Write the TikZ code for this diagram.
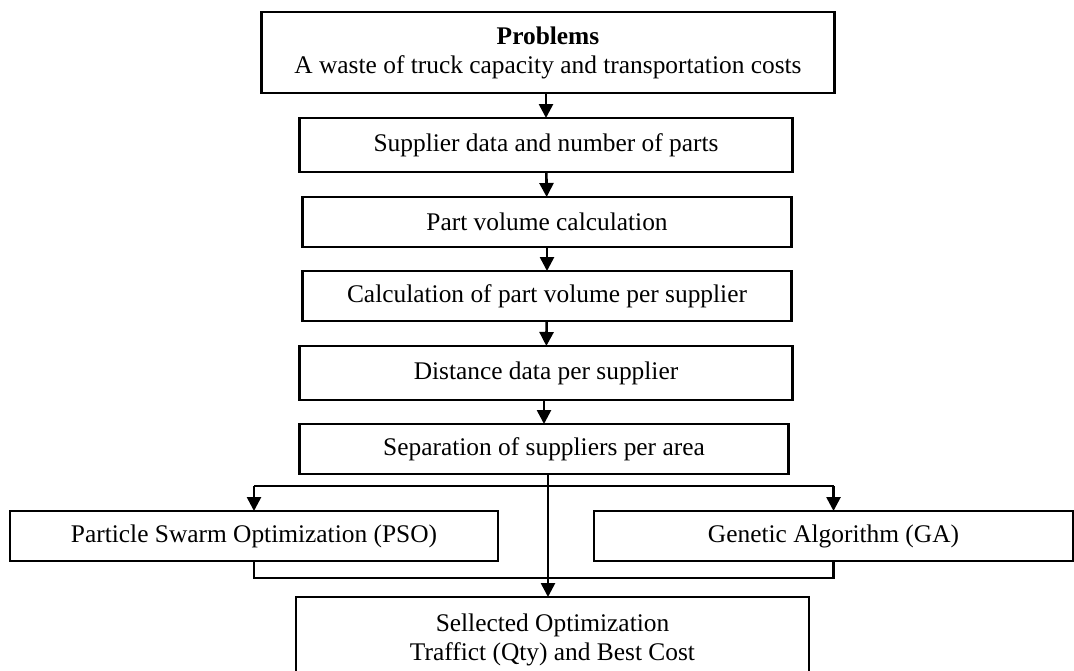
\documentclass[tikz,border=0pt]{standalone}
\usepackage{fontspec}
\setmainfont{Liberation Serif}
\usetikzlibrary{arrows.meta}

\tikzset{
  box/.style={draw, line width=1.3pt, inner sep=0pt, outer sep=0pt, align=center,
    font=\fontsize{12.7}{14.5}\selectfont},
  arr/.style={line width=1.3pt, -{Triangle[length=7pt,width=7pt]}},
  lin/.style={line width=1.3pt}
}

\begin{document}
\begin{tikzpicture}[x=0.5pt, y=-0.5pt]
    \useasboundingbox (0,0) rectangle (1074,670);
    % main column
    \node[box, minimum width=286.5pt, minimum height=40.5pt] (prob) at (548,52.5)
      {\textbf{Problems}\\A waste of truck capacity and transportation costs};
    \node[box, minimum width=246.5pt, minimum height=27pt] (supdata) at (546,145)
      {Supplier data and number of parts};
    \node[box, minimum width=244.5pt, minimum height=25pt] (partvol) at (547,222)
      {Part volume calculation};
    \node[box, minimum width=244.5pt, minimum height=25pt] (volsup) at (547,296)
      {Calculation of part volume per supplier};
    \node[box, minimum width=246.5pt, minimum height=27pt] (dist) at (546,373)
      {Distance data per supplier};
    \node[box, minimum width=244.5pt, minimum height=25pt] (sep) at (544,449)
      {Separation of suppliers per area};
    % two methods
    \node[box, minimum width=244pt, minimum height=25pt] (pso) at (254,536)
      {Particle Swarm Optimization (PSO)};
    \node[box, minimum width=239.5pt, minimum height=25pt] (ga) at (833.5,536)
      {Genetic Algorithm (GA)};
    \node[box, minimum width=256.5pt, minimum height=43pt] (sel) at (552.5,640)
      {Sellected Optimization\\Traffict (Qty) and Best Cost};

    \draw[arr] (prob.south -| supdata) -- (supdata.north);
    \draw[arr] (supdata) -- (partvol);
    \draw[arr] (partvol) -- (volsup);
    \draw[arr] (volsup) -- (dist);
    \draw[arr] (dist.south -| sep) -- (sep.north);

    \coordinate (split) at (548,486);
    \coordinate (join) at (548,578);
    \draw[arr] (sep.south -| split) -- (sel.north -| split);
    \draw[lin] (split -| pso) -- (split -| ga);
    \draw[arr] (split -| pso) -- (pso.north);
    \draw[arr] (split -| ga) -- (ga.north);
    \draw[lin] (pso.south) -- (join -| pso) -- (join -| ga) -- (ga.south);
  \end{tikzpicture}
\end{document}
